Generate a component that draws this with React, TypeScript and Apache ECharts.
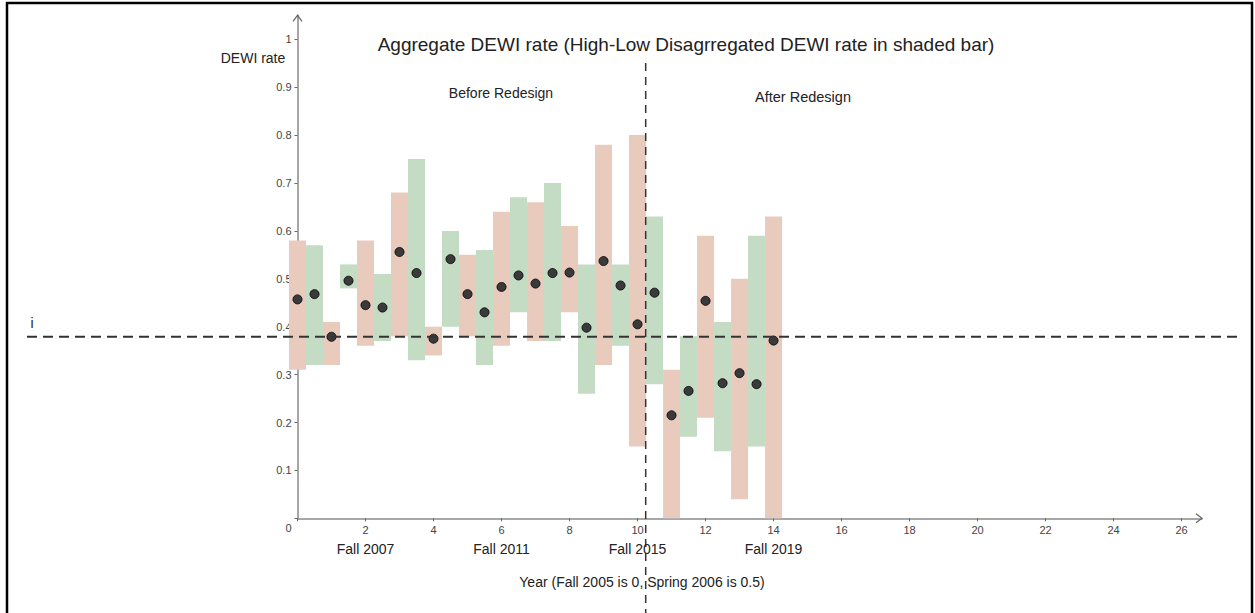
import React, { useEffect, useRef } from "react";
import * as echarts from "echarts";

// Term index (Fall 2005 = 0, Spring 2006 = 0.5, ...)
const terms = [0, 0.5, 1, 1.5, 2, 2.5, 3, 3.5, 4, 4.5, 5, 5.5, 6, 6.5, 7, 7.5, 8, 8.5, 9, 9.5, 10, 10.5, 11, 11.5, 12, 12.5, 13, 13.5, 14];
// High / low disaggregated DEWI rates (shaded bar ends)
const highRates = [0.58, 0.57, 0.41, 0.53, 0.58, 0.51, 0.68, 0.75, 0.40, 0.60, 0.55, 0.56, 0.64, 0.67, 0.66, 0.70, 0.61, 0.53, 0.78, 0.53, 0.80, 0.63, 0.31, 0.38, 0.59, 0.41, 0.50, 0.59, 0.63];
const lowRates = [0.31, 0.32, 0.32, 0.48, 0.36, 0.37, 0.38, 0.33, 0.34, 0.40, 0.38, 0.32, 0.36, 0.43, 0.37, 0.37, 0.43, 0.26, 0.32, 0.36, 0.15, 0.28, 0.0, 0.17, 0.21, 0.14, 0.04, 0.15, 0.0];
// Aggregate DEWI rate (points)
const aggregateRates = [0.457, 0.468, 0.379, 0.496, 0.445, 0.44, 0.556, 0.512, 0.375, 0.541, 0.468, 0.43, 0.483, 0.507, 0.49, 0.512, 0.513, 0.398, 0.537, 0.486, 0.405, 0.471, 0.215, 0.266, 0.454, 0.282, 0.303, 0.28, 0.371];

const baselineRate = 0.379;
const redesignTerm = 10.24;
const fallLabelTerms = [2, 6, 10, 14];
const fallLabels = ["Fall 2007", "Fall 2011", "Fall 2015", "Fall 2019"];

const X_MAX = 26.6;
const Y_MAX = 1.05;

const PINK = "#e9cbbd";
const GREEN = "#c3dcc3";
const FONT = "'Liberation Sans', Arial, sans-serif";

export default function App() {
  const ref = useRef<HTMLDivElement>(null);

  useEffect(() => {
    document.body.style.margin = "0";
    if (!ref.current) return;
    const chart = echarts.init(ref.current, undefined, { renderer: "svg" });

    const barData = terms.map((t, i) => [t, lowRates[i], highRates[i], i]);
    const pointData = terms.map((t, i) => [t, aggregateRates[i]]);

    const option: any = {
      animation: false,
      backgroundColor: "#ffffff",
      grid: { left: 297.5, top: 15.35, right: 53, bottom: 94.7, containLabel: false },
      xAxis: {
        type: "value",
        min: 0,
        max: X_MAX,
        interval: 2,
        splitLine: { show: false },
        axisLine: { show: true, onZero: false, lineStyle: { color: "#8a8a8a", width: 1.5 } },
        axisTick: { show: true, length: 3, lineStyle: { color: "#666" } },
        axisLabel: {
          color: "#444",
          fontSize: 11,
          fontFamily: FONT,
          margin: 6,
          showMaxLabel: false,
          formatter: (v: number) => (v === 0 ? "" : String(v)),
        },
      },
      yAxis: {
        type: "value",
        min: 0,
        max: Y_MAX,
        interval: 0.1,
        splitLine: { show: false },
        axisLine: { show: true, onZero: false, lineStyle: { color: "#8a8a8a", width: 1.5 } },
        axisTick: { show: true, length: 3, lineStyle: { color: "#666" } },
        axisLabel: {
          color: "#444",
          fontSize: 11,
          fontFamily: FONT,
          margin: 6,
          showMaxLabel: false,
          formatter: (v: number) => (v === 0 ? "" : String(+v.toFixed(1))),
        },
      },
      series: [
        {
          type: "custom",
          data: barData,
          encode: { x: 0, y: [1, 2] },
          z: 2,
          renderItem: (params: any, api: any) => {
            const x = api.value(0);
            const lo = api.value(1);
            const hi = api.value(2);
            const idx = api.value(3);
            const p1 = api.coord([x - 0.25, hi]);
            const p2 = api.coord([x + 0.25, lo]);
            return {
              type: "rect",
              shape: { x: p1[0], y: p1[1], width: p2[0] - p1[0], height: p2[1] - p1[1] },
              style: { fill: idx % 2 === 0 ? PINK : GREEN },
            };
          },
        },
        {
          type: "scatter",
          data: pointData,
          symbolSize: 9,
          z: 5,
          itemStyle: { color: "#3a3a3a", borderColor: "#111", borderWidth: 1, opacity: 1 },
        },
      ],
    };

    chart.setOption(option);

    const px = (x: number, y: number) => chart.convertToPixel({ gridIndex: 0 }, [x, y]) as number[];
    const origin = px(0, 0);
    const yTop = px(0, Y_MAX);
    const xEnd = px(X_MAX, 0);
    const base = px(0, baselineRate);
    const redesign = px(redesignTerm, 0);

    const texts: any[] = [
      { text: "Aggregate DEWI rate (High-Low Disagrregated DEWI rate in shaded bar)", x: 686, y: 44, size: 19, color: "#222" },
      { text: "DEWI rate", x: 253, y: 58, size: 14, color: "#222" },
      { text: "Before Redesign", x: 501, y: 93, size: 14, color: "#222" },
      { text: "After Redesign", x: 803, y: 97, size: 14.5, color: "#222" },
      { text: "Year (Fall 2005 is 0, Spring 2006 is 0.5)", x: 642, y: 582, size: 14, color: "#222" },
      { text: "i", x: 32, y: 323, size: 14, color: "#222" },
      { text: "0", x: origin[0] - 9, y: origin[1] + 10, size: 11, color: "#444" },
    ];
    fallLabelTerms.forEach((t, i) => {
      const p = px(t, 0);
      texts.push({ text: fallLabels[i], x: p[0], y: 549, size: 14, color: "#222" });
    });

    const graphic: any[] = [
      {
        type: "rect",
        shape: { x: 7, y: 3, width: 1245, height: 700 },
        style: { fill: "none", stroke: "#000", lineWidth: 2.5 },
        silent: true,
        z: 100,
      },
      {
        type: "line",
        shape: { x1: 27, y1: base[1], x2: 1240, y2: base[1] },
        style: { stroke: "#333", lineWidth: 2, lineDash: [10, 6] },
        z: 10,
      },
      {
        type: "line",
        shape: { x1: redesign[0], y1: 63, x2: redesign[0], y2: 613 },
        style: { stroke: "#333", lineWidth: 1.5, lineDash: [8, 6] },
        z: 10,
      },
      {
        type: "polyline",
        shape: { points: [[yTop[0] - 4.5, yTop[1] + 6], [yTop[0], yTop[1]], [yTop[0] + 4.5, yTop[1] + 6]] },
        style: { stroke: "#666", lineWidth: 1.2, fill: "none" },
        z: 10,
      },
      {
        type: "polyline",
        shape: { points: [[xEnd[0] - 6, xEnd[1] - 4.5], [xEnd[0], xEnd[1]], [xEnd[0] - 6, xEnd[1] + 4.5]] },
        style: { stroke: "#666", lineWidth: 1.2, fill: "none" },
        z: 10,
      },
      ...texts.map((t) => ({
        type: "text",
        x: t.x,
        y: t.y,
        z: 20,
        style: {
          text: t.text,
          fill: t.color,
          font: `${t.size}px ${FONT}`,
          textAlign: "center",
          textVerticalAlign: "middle",
        },
      })),
    ];

    chart.setOption({ graphic });

    return () => chart.dispose();
  }, []);

  return <div ref={ref} style={{ width: 1255, height: 613 }} />;
}
